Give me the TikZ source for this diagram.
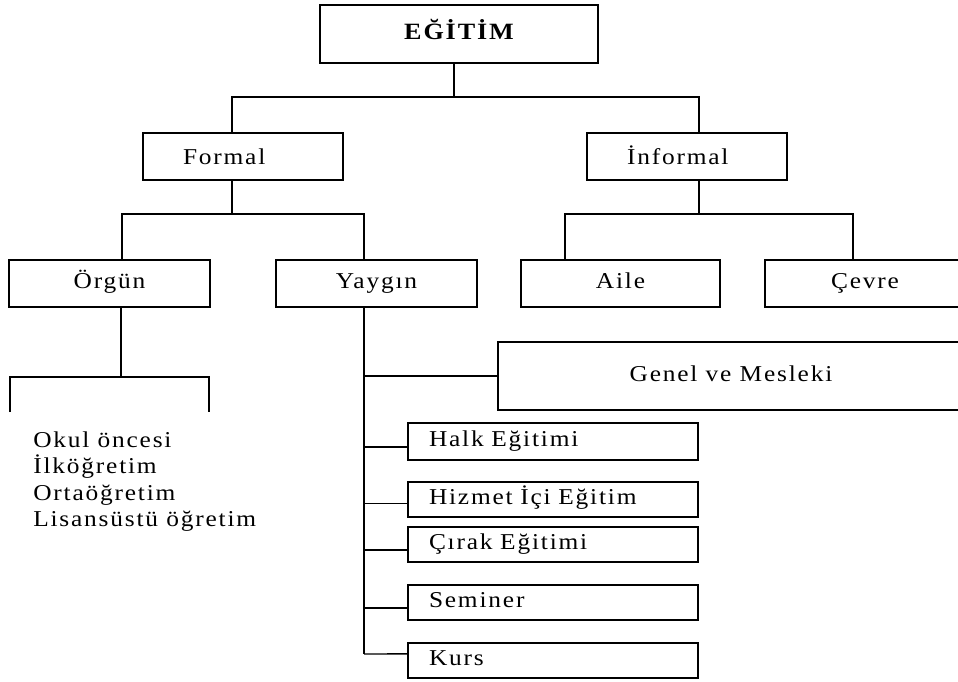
\documentclass[tikz,border=0pt]{standalone}
\usepackage{fontspec}
\setmainfont{Liberation Serif}[LetterSpace=8,FakeStretch=1.12]
\usepackage{tikz}
\usetikzlibrary{calc}

\tikzset{
	box/.style={draw,line width=1.2pt,minimum height=35.25pt,inner sep=0pt,text height=11.5pt,text depth=3.5pt,font=\fontsize{17}{20}\selectfont},
	leftbox/.style={box,align=left,inner xsep=15.75pt,text width=186pt,minimum height=26.25pt},
	item/.style={anchor=base west,inner sep=0pt,font=\fontsize{17}{20}\selectfont},
	link/.style={line width=1pt},
	trunk/.style={line width=1.5pt}
}

\begin{document}
\begin{tikzpicture}[x=0.75pt,y=-0.75pt]
	\useasboundingbox (0,0) rectangle (958,682);
	
	\node[box,minimum width=208.5pt,minimum height=43.5pt,font=\fontsize{17.5}{22}\selectfont\bfseries] (egitim) at (459,34) {EĞİTİM};
	
	\node[box,align=left,inner xsep=30pt,text width=90pt,text depth=0pt] (formal) at (243,156.5) {Formal};
	\node[box,align=left,inner xsep=30pt,text width=90pt,text depth=0pt] (informal) at (687,156.5) {İnformal};
	
	\node[box,minimum width=150.75pt] (orgun) at (109.5,283.5) {Örgün};
	\node[box,minimum width=150.75pt] (yaygin) at (376.5,283.5) {Yaygın};
	\node[box,minimum width=149.25pt] (aile) at (620.5,283.5) {Aile};
	\node[box,minimum width=150pt] (cevre) at (865,283.5) {Çevre};
	
	\node[box,minimum width=349.5pt,minimum height=51pt] (genel) at (731,376) {Genel ve Mesleki};
	\node[leftbox,minimum height=27.75pt] (halk) at (553,441.5) {Halk Eğitimi};
	\node[leftbox] (hizmet) at (553,499.5) {Hizmet İçi Eğitim};
	\node[leftbox] (cirak) at (553,544.5) {Çırak Eğitimi};
	\node[leftbox] (seminer) at (553,602.5) {Seminer};
	\node[leftbox] (kurs) at (553,660.5) {Kurs};
	
	\node[item] (okul) at (33,447) {Okul öncesi};
	\node[item] (ilk) at (33,473.5) {İlköğretim};
	\node[item] (orta) at (33,500) {Ortaöğretim};
	\node[item] (lisans) at (33,526.5) {Lisansüstü öğretim};
	
	% top level
	\coordinate (e0) at (454,97);
	\coordinate (f0) at (232,97);
	\coordinate (i0) at (699,97);
	\draw[link] (egitim.south -| e0) -- (e0);
	\draw[link] (formal.north -| f0) -- (f0) -- (i0) -- (informal.north -| i0);
	
	% formal
	\coordinate (f1) at (232,214);
	\coordinate (o0) at (122,214);
	\coordinate (y0) at (364,214);
	\draw[trunk] (formal.south -| f1) -- (f1);
	\draw[link] (orgun.north -| o0) -- (o0) -- (y0) -- (yaygin.north -| y0);
	
	% informal
	\coordinate (i1) at (699,214);
	\coordinate (a0) at (565,214);
	\coordinate (c0) at (853,214);
	\draw[trunk] (informal.south -| i1) -- (i1);
	\draw[link] (aile.north -| a0) -- (a0) -- (c0) -- (cevre.north -| c0);
	
	% orgun
	\coordinate (o1) at (121,377);
	\coordinate (o2) at (10,377);
	\coordinate (o3) at (209,377);
	\coordinate (o2b) at (10,412);
	\coordinate (o3b) at (209,412);
	\draw[link] (orgun.south -| o1) -- (o1);
	\draw[link] (o2b) -- (o2) -- (o3) -- (o3b);
	
	% yaygin
	\coordinate (t) at (364,654);
	\draw[trunk] (yaygin.south -| t) -- (t);
	\draw[link] (t) -- ([yshift=5pt]kurs.west);
	\draw[link] (genel.west) -- (genel.west -| t);
	\draw[link] ([yshift=-4pt]halk.west) -- ($(t)!([yshift=-4pt]halk.west)!(yaygin.south -| t)$);
	\draw[link] ([yshift=-3pt]hizmet.west) -- ($(t)!([yshift=-3pt]hizmet.west)!(yaygin.south -| t)$);
	\draw[link] ([yshift=-4pt]cirak.west) -- ($(t)!([yshift=-4pt]cirak.west)!(yaygin.south -| t)$);
	\draw[link] ([yshift=-4pt]seminer.west) -- ($(t)!([yshift=-4pt]seminer.west)!(yaygin.south -| t)$);
\end{tikzpicture}
\end{document}
